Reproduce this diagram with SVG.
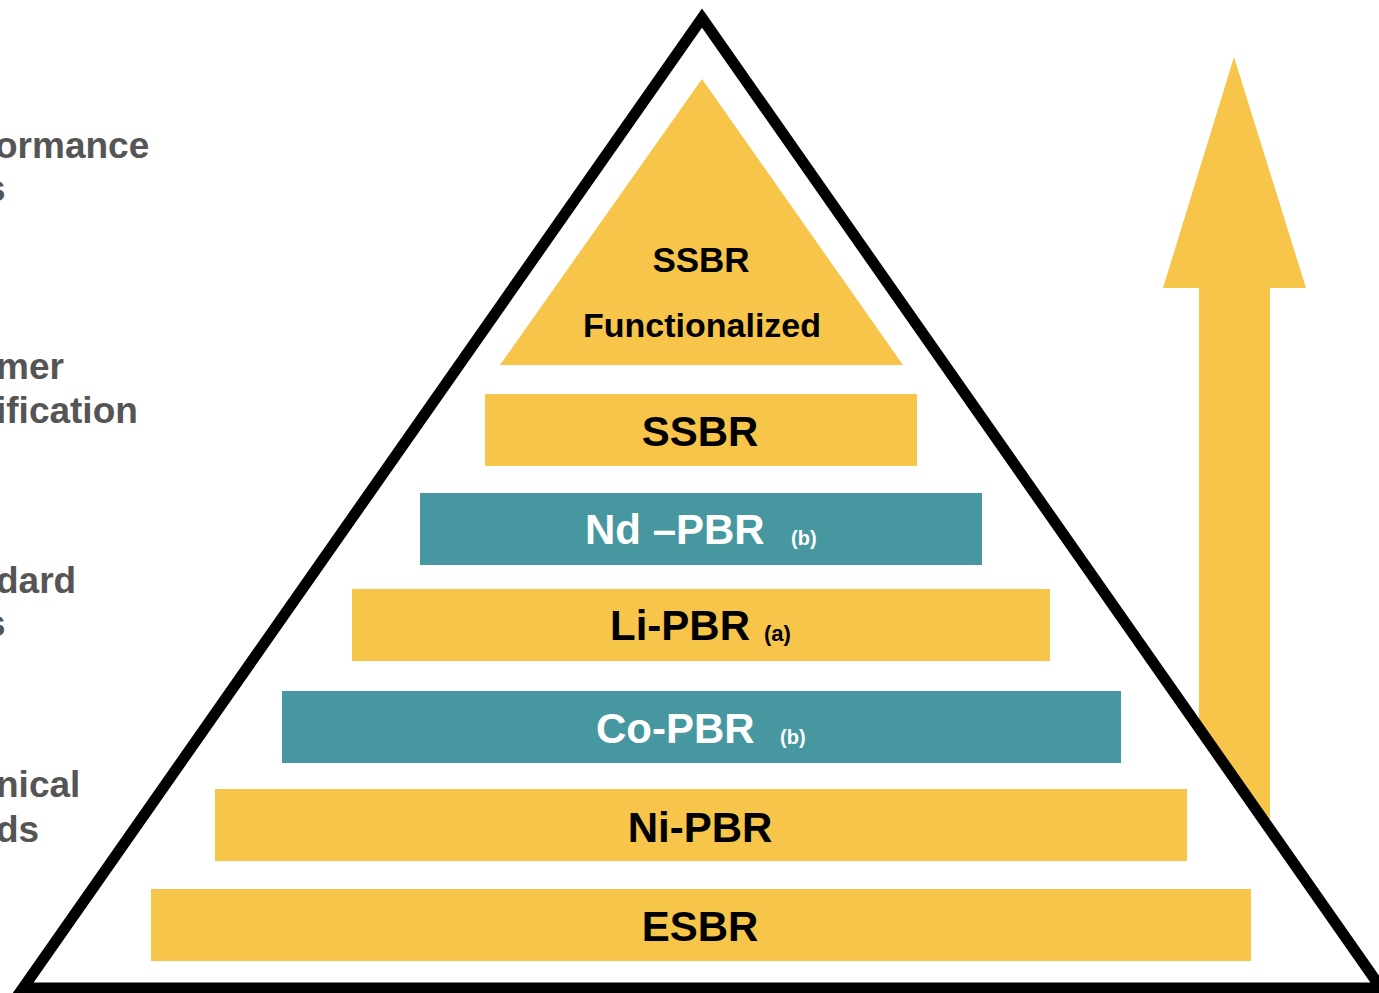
<svg xmlns="http://www.w3.org/2000/svg" width="1379" height="993" viewBox="0 0 1379 993">
<style>
.side{font-family:"Liberation Sans",Arial,sans-serif;font-weight:bold;font-size:37px;fill:#555555}
.lbl{font-family:"Liberation Sans",Arial,sans-serif;font-weight:bold;font-size:42px}
.sub{font-family:"Liberation Sans",Arial,sans-serif;font-weight:bold;font-size:20px}
.y{fill:#F6C54A}
.t{fill:#46979F}
.dk{fill:#000000}
.wt{fill:#FFFFFF}
</style>
<rect width="1379" height="993" fill="#FFFFFF"/>
<g id="side-labels">
<text class="side" x="-5" y="158">ormance</text>
<text class="side" x="-15" y="201">s</text>
<text class="side" x="-4" y="379">mer</text>
<text class="side" x="-4" y="423">ification</text>
<text class="side" x="-4" y="593">dard</text>
<text class="side" x="-15" y="636">s</text>
<text class="side" x="-4" y="797">nical</text>
<text class="side" x="-4" y="842">ds</text>
</g>
<g id="arrow">
<polygon class="y" points="1234,57 1306,288 1270,288 1270,900 1199,900 1199,288 1163,288"/>
</g>
<g id="pyramid">
<polygon points="702,18 1381,988 23,988" fill="#FFFFFF" stroke="#000000" stroke-width="11" stroke-linejoin="miter" stroke-miterlimit="20"/>
</g>
<g id="node-top">
<polygon class="y" points="702,79 903,365 500,365"/>
<text class="lbl dk" x="701" y="272" text-anchor="middle" style="font-size:35px">SSBR</text>
<text class="lbl dk" x="702" y="337" text-anchor="middle" style="font-size:34px">Functionalized</text>
</g>
<g id="node-ssbr">
<rect class="y" x="485" y="394" width="432" height="72"/>
<text class="lbl dk" x="700" y="446" text-anchor="middle">SSBR</text>
</g>
<g id="node-nd">
<rect class="t" x="420" y="493" width="562" height="72"/>
<text class="lbl wt" x="585" y="544">Nd –PBR</text>
<text class="sub wt" x="791" y="545">(b)</text>
</g>
<g id="node-li">
<rect class="y" x="352" y="589" width="698" height="72"/>
<text class="lbl dk" x="610" y="640">Li-PBR</text>
<text class="sub dk" x="764" y="641" style="font-size:22px">(a)</text>
</g>
<g id="node-co">
<rect class="t" x="282" y="691" width="839" height="72"/>
<text class="lbl wt" x="596" y="743">Co-PBR</text>
<text class="sub wt" x="780" y="744">(b)</text>
</g>
<g id="node-ni">
<rect class="y" x="215" y="789" width="972" height="72"/>
<text class="lbl dk" x="700" y="842" text-anchor="middle">Ni-PBR</text>
</g>
<g id="node-esbr">
<rect class="y" x="151" y="889" width="1100" height="72"/>
<text class="lbl dk" x="700" y="941" text-anchor="middle">ESBR</text>
</g>
<g id="connectors"></g>
</svg>
